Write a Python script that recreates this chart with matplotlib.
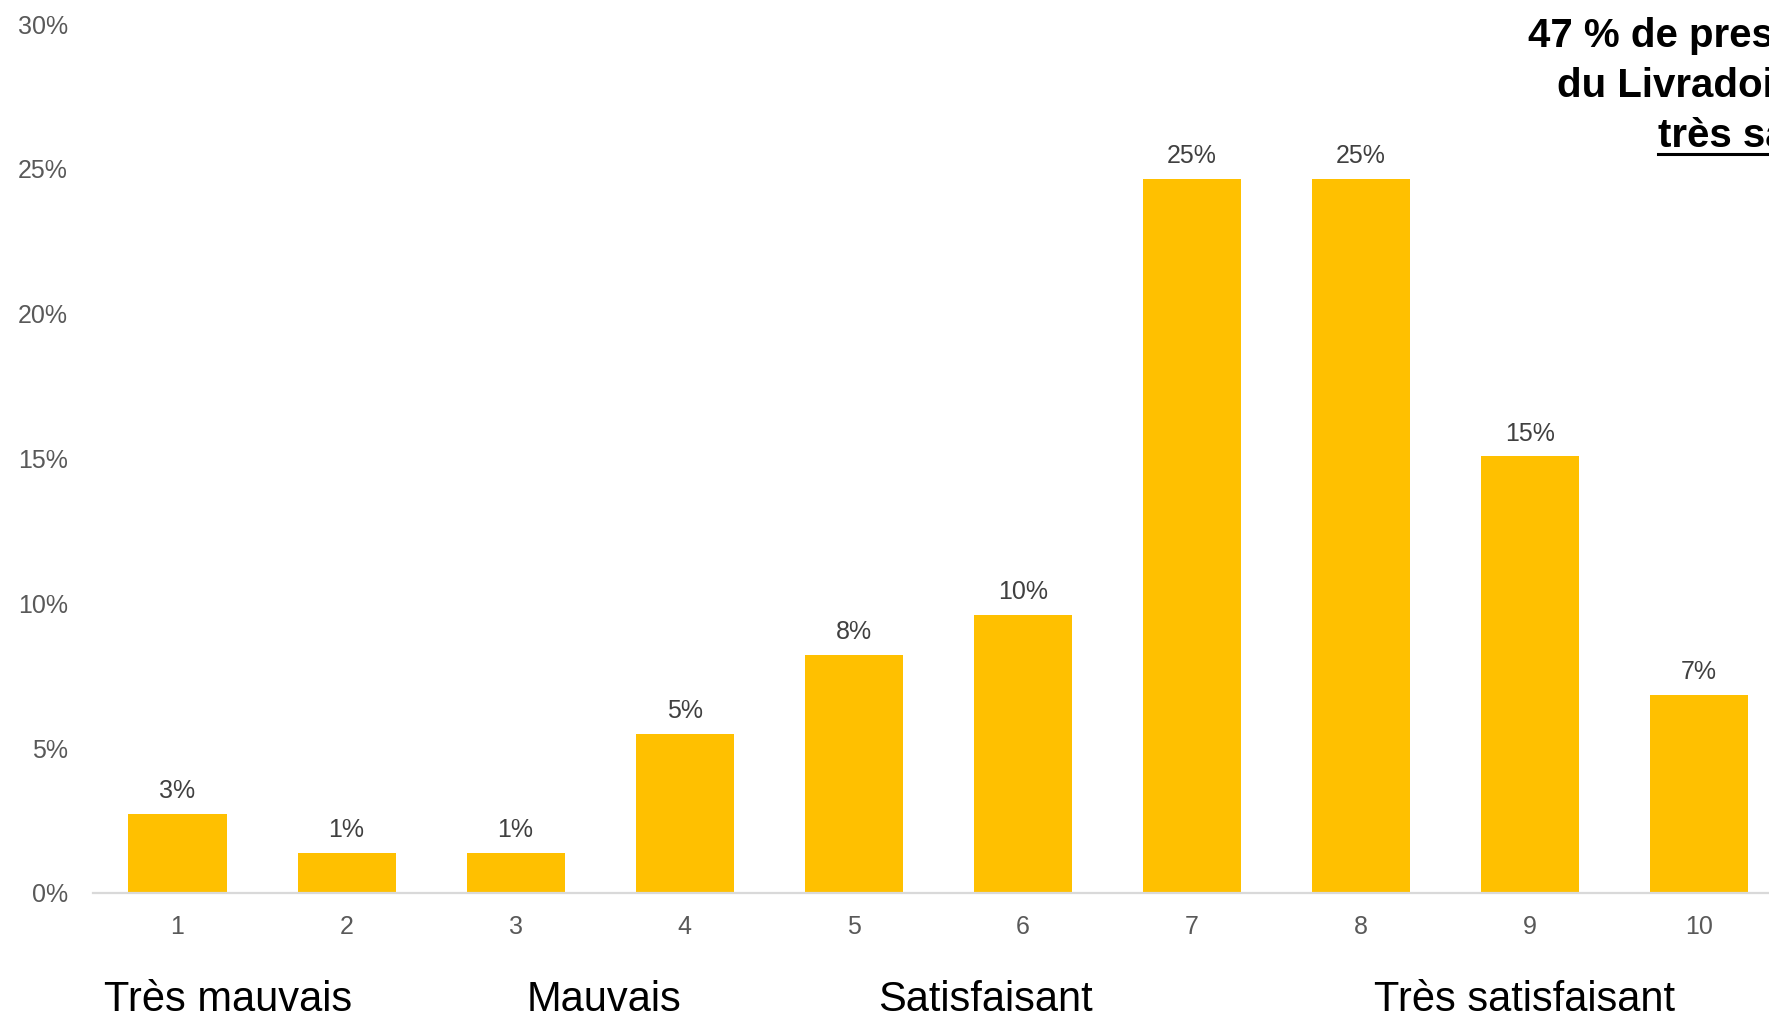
import matplotlib
matplotlib.use("Agg")
import matplotlib.pyplot as plt
from matplotlib.transforms import blended_transform_factory
from matplotlib.lines import Line2D

plt.rcParams['font.family'] = ['Liberation Sans', 'DejaVu Sans']

# ---- data ----
scores = [1, 2, 3, 4, 5, 6, 7, 8, 9, 10]
shares = [2.74, 1.37, 1.37, 5.48, 8.22, 9.59, 24.66, 24.66, 15.07, 6.85]  # percent
value_labels = ["3%", "1%", "1%", "5%", "8%", "10%", "25%", "25%", "15%", "7%"]
yticks = [0, 5, 10, 15, 20, 25, 30]
ytick_labels = ["0%", "5%", "10%", "15%", "20%", "25%", "30%"]
category_names = ["Très mauvais", "Mauvais", "Satisfaisant", "Très satisfaisant"]
category_x = [1.30, 3.52, 5.78, 8.97]
headline = ["47 % de prestataires", "du Livradois-Forez", "très satisfaits"]

W, H = 1769, 1016
fig = plt.figure(figsize=(W / 100, H / 100), dpi=100)
ax = fig.add_axes([93 / W, (H - 893) / H, 1 - 93 / W, (893 - 24) / H])

bar_color = "#FFC000"
ax.bar(scores, shares, width=0.58, color=bar_color, zorder=2)

ax.set_xlim(0.5, 1 + (W - 177) / 169.1)
ax.set_ylim(0, 30)
ax.set_yticks(yticks)
ax.set_yticklabels(ytick_labels)
ax.set_xticks(scores)
ax.set_xticklabels([str(s) for s in scores])
ax.tick_params(axis='y', length=0, pad=18, labelsize=18, labelcolor="#595959")
ax.tick_params(axis='x', length=0, pad=16, labelsize=18, labelcolor="#595959")

for side in ["top", "right", "left"]:
    ax.spines[side].set_visible(False)
ax.spines["bottom"].set_color("#D9D9D9")
ax.spines["bottom"].set_linewidth(1.6)

for x, v, lab in zip(scores, shares, value_labels):
    ax.annotate(lab, (x, v), xytext=(0, 11.5), textcoords="offset points",
                ha="center", va="baseline", fontsize=18, color="#404040")

tr = blended_transform_factory(ax.transData, fig.transFigure)
for name, x in zip(category_names, category_x):
    ax.text(x, (H - 1011) / H, name, transform=tr, ha="center", va="baseline",
            fontsize=30, color="black", clip_on=False)

# headline, right-aligned beyond the visible edge (clipped like the reference)
line_baselines = [47, 97, 147]
texts = []
for txt, yb in zip(headline, line_baselines):
    t = fig.text(1917 / W, (H - yb) / H, txt, ha="right", va="baseline",
                 fontsize=29, fontweight="bold", color="black")
    texts.append(t)

fig.canvas.draw()
bb = texts[2].get_window_extent()
fig.add_artist(Line2D([bb.x0 / W, bb.x1 / W], [(H - 154) / H, (H - 154) / H],
                      transform=fig.transFigure, color="black", linewidth=2.2))

fig.savefig("out.png", dpi=100)
